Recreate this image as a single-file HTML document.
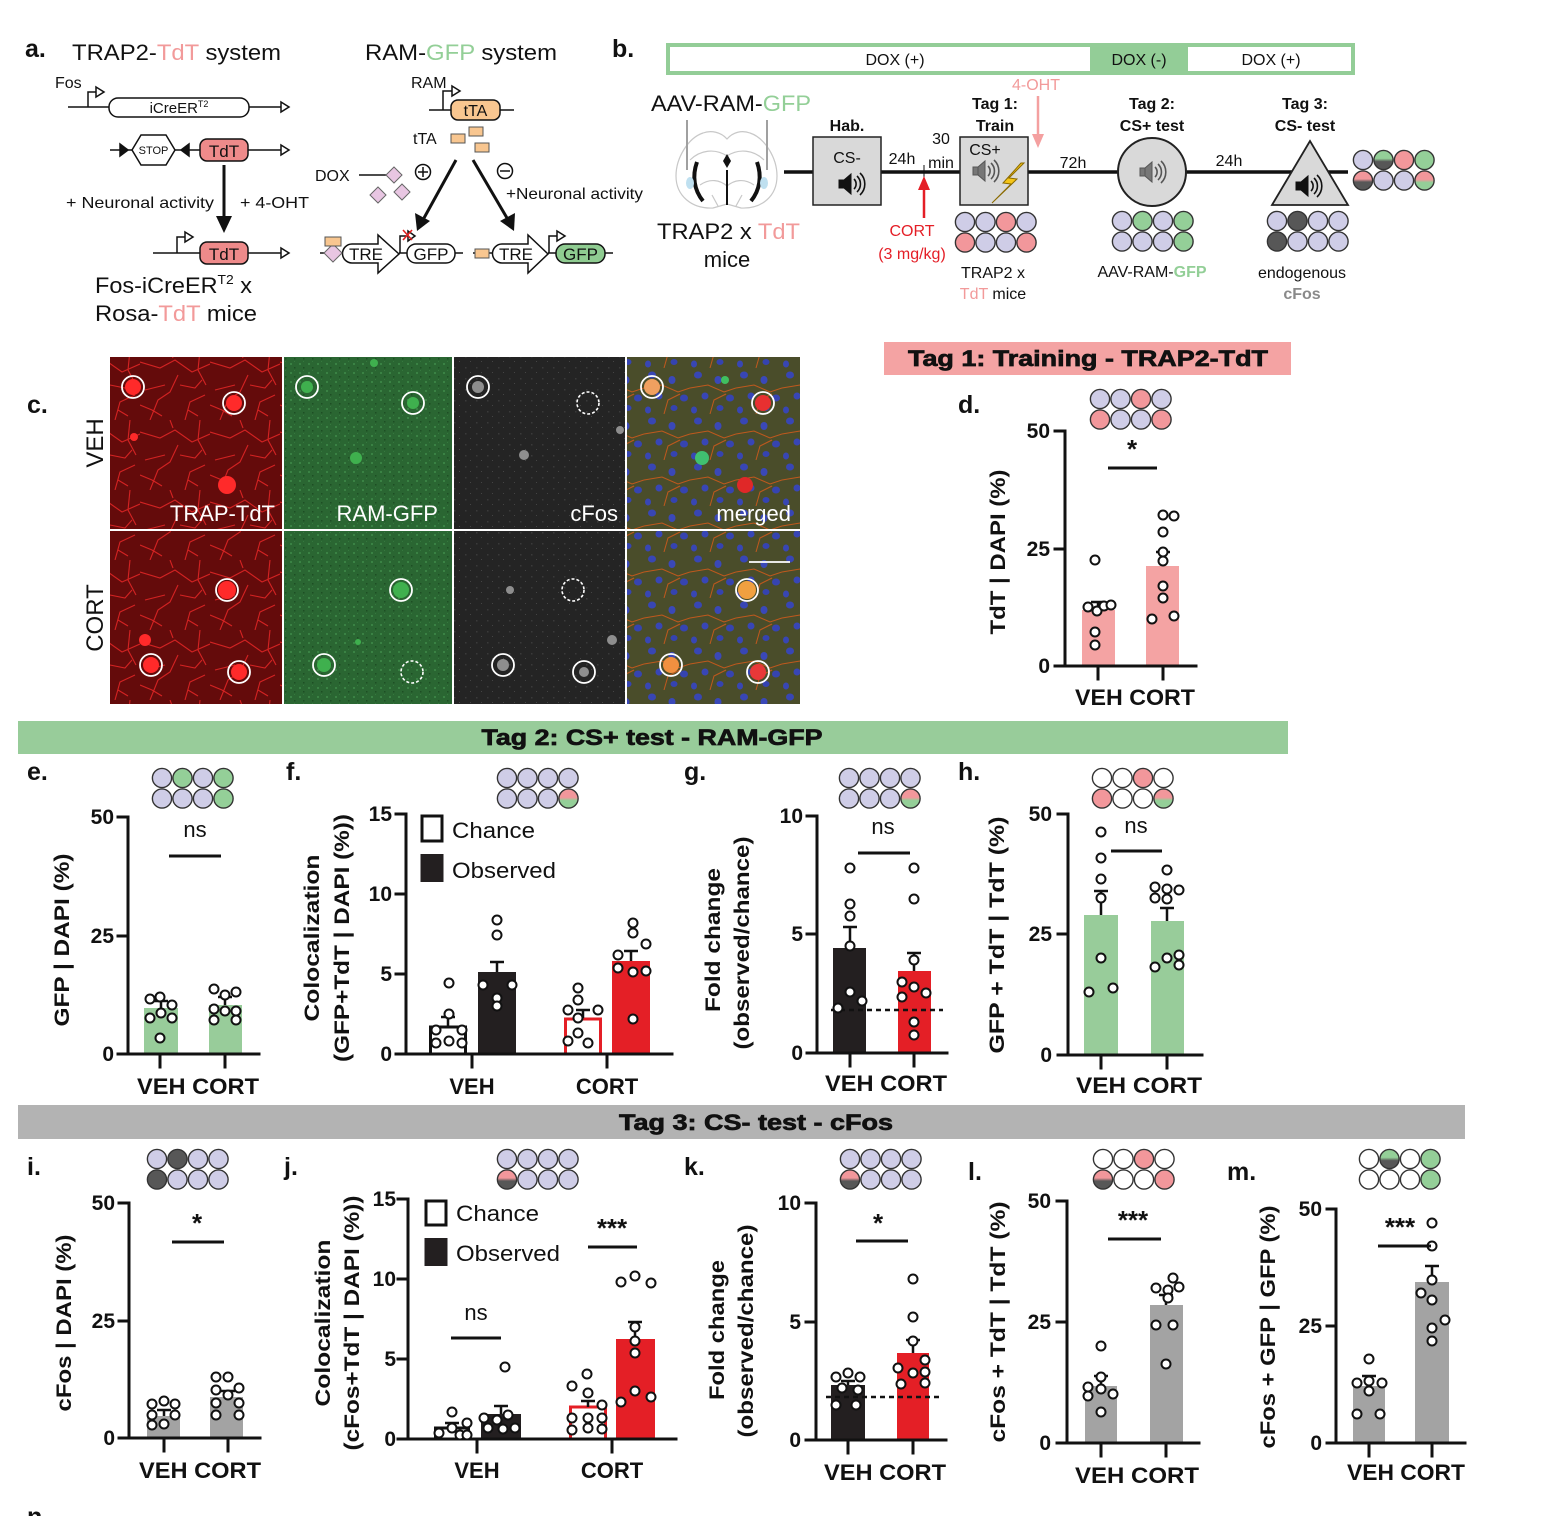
<!DOCTYPE html>
<html><head><meta charset="utf-8">
<style>
html,body{margin:0;padding:0;background:#fff;}
body{width:1554px;height:1516px;overflow:hidden;}
svg{display:block;font-family:"Liberation Sans",Arial,sans-serif;}
.b{font-weight:bold;}
.ax{stroke:#111;stroke-width:3;fill:none;stroke-linecap:square;}
.eb{stroke:#111;stroke-width:2.5;fill:none;}
.p{fill:#fff;stroke:#111;stroke-width:2;}
.gc circle{stroke:#333;stroke-width:1.4;}
.L{fill:#cfcde7;} .P{fill:#f2979b;} .G{fill:#94cf98;} .D{fill:#575757;} .W{fill:#fff;}
.tk{font-size:21px;font-weight:bold;text-anchor:end;fill:#111;}
.yl{font-size:21px;font-weight:bold;text-anchor:middle;fill:#111;}
.xl{font-size:22px;font-weight:bold;fill:#111;}
.lbl{font-size:25px;font-weight:bold;fill:#111;}
.sig{stroke:#111;stroke-width:3;}
.wc{fill:none;stroke:#fff;stroke-width:1.8;}
.wd{fill:none;stroke:#fff;stroke-width:1.6;stroke-dasharray:3 2;}
.ban{font-size:22px;font-weight:bold;text-anchor:middle;fill:#111;stroke:#111;stroke-width:0.7;}
</style></head>
<body>
<svg width="1554" height="1516" viewBox="0 0 1554 1516" xmlns="http://www.w3.org/2000/svg">
<defs>
<linearGradient id="pg" x1="0" y1="0" x2="0" y2="1"><stop offset="0.45" stop-color="#f2979b"/><stop offset="0.6" stop-color="#94cf98"/></linearGradient>
<linearGradient id="pd" x1="0" y1="0" x2="0" y2="1"><stop offset="0.42" stop-color="#f2979b"/><stop offset="0.58" stop-color="#575757"/></linearGradient>
<linearGradient id="gd" x1="0" y1="0" x2="0" y2="1"><stop offset="0.42" stop-color="#94cf98"/><stop offset="0.58" stop-color="#575757"/></linearGradient>
<pattern id="redp" width="70" height="70" patternUnits="userSpaceOnUse">
<rect width="70" height="70" fill="#640b0b"/>
<path d="M0,12 L20,18 L35,10 L52,22 L70,14 M10,70 L18,50 L30,42 L38,25 M45,70 L50,52 L65,45 M25,35 L5,40 M60,0 L58,20 L66,35 M0,55 L12,60 L22,66 M40,35 L55,38 L62,30 M30,0 L33,8 M48,60 L58,66" stroke="#d42222" stroke-width="1.1" fill="none"/>
</pattern>
<pattern id="grnp" width="9" height="9" patternUnits="userSpaceOnUse">
<rect width="9" height="9" fill="#2a6632"/><rect x="2" y="3" width="2" height="2" fill="#3a8244"/><rect x="6" y="7" width="1.5" height="1.5" fill="#1d4e24"/><rect x="6" y="1" width="1" height="1" fill="#35783e"/>
</pattern>
<pattern id="gryp" width="11" height="11" patternUnits="userSpaceOnUse">
<rect width="11" height="11" fill="#242424"/><rect x="3" y="4" width="1.5" height="1.5" fill="#3a3a3a"/><rect x="8" y="9" width="1" height="1" fill="#444"/>
</pattern>
<pattern id="mrgp" width="46" height="46" patternUnits="userSpaceOnUse">
<rect width="46" height="46" fill="#4a4d2a"/>
<ellipse cx="8" cy="7" rx="4" ry="3.5" fill="#3846b4"/><ellipse cx="28" cy="12" rx="3.5" ry="4" fill="#3a48b8"/><ellipse cx="40" cy="30" rx="4" ry="3.5" fill="#3644b0"/><ellipse cx="15" cy="28" rx="3.5" ry="3.5" fill="#3846b6"/><ellipse cx="30" cy="40" rx="3.5" ry="3" fill="#3543b0"/><ellipse cx="4" cy="42" rx="3" ry="3.5" fill="#3846b4"/>
<path d="M0,20 L18,17 L34,24 L46,20 M20,46 L24,32 L36,26" stroke="#c0581c" stroke-width="1" fill="none"/>
</pattern>
<g id="spk"><rect x="-10" y="-4" width="5" height="8"/><polygon points="-5,-4 2,-10 2,10 -5,4"/><path d="M5,-5 A7,7 0 0 1 5,5 M8,-8 A11,11 0 0 1 8,8 M11,-11 A15,15 0 0 1 11,11" fill="none" stroke-width="1.6"/></g>
</defs>

<!-- ================= PANEL A ================= -->
<text x="25" y="57" class="lbl">a.</text>
<text x="72" y="60" font-size="22" textLength="209" lengthAdjust="spacingAndGlyphs" fill="#111">TRAP2-<tspan fill="#f29a9a">TdT</tspan> system</text>
<text x="365" y="60" font-size="22" textLength="192" lengthAdjust="spacingAndGlyphs" fill="#111">RAM-<tspan fill="#93cf97">GFP</tspan> system</text>
<text x="55" y="88" font-size="16" fill="#111">Fos</text>
<g stroke="#111" stroke-width="1.5" fill="none">
<path d="M68,107 H109 M88,107 V92 H96"/>
<polygon points="96,87 104,92 96,97" fill="#fff"/>
<rect x="109" y="98" width="140" height="19" rx="9" fill="#fff"/>
<path d="M249,107 H281"/><polygon points="281,102 289,107 281,112" fill="#fff"/>
<path d="M110,150 H200"/>
<polygon points="120,144 128,150 120,156" fill="#111"/>
<polygon points="132,150 141,135 166,135 175,150 166,165 141,165" fill="#fff"/>
<polygon points="189,144 181,150 189,156" fill="#111"/>
<rect x="200" y="139" width="48" height="22" rx="7" fill="#ee8a8a"/>
<path d="M248,150 H281"/><polygon points="281,145 289,150 281,155" fill="#fff"/>
<path d="M153,253 H200 M177,253 V237 H185"/>
<polygon points="185,232 193,237 185,242" fill="#fff"/>
<rect x="200" y="242" width="48" height="22" rx="7" fill="#ee8a8a"/>
<path d="M248,253 H281"/><polygon points="281,248 289,253 281,258" fill="#fff"/>
</g>
<text x="179" y="113" font-size="15" text-anchor="middle" fill="#111">iCreER<tspan font-size="9" dy="-6">T2</tspan></text>
<text x="153.5" y="154" font-size="11" text-anchor="middle" fill="#111">STOP</text>
<text x="224" y="157" font-size="17" text-anchor="middle" fill="#111">TdT</text>
<text x="224" y="260" font-size="17" text-anchor="middle" fill="#111">TdT</text>
<line x1="224" y1="165" x2="224" y2="218" stroke="#111" stroke-width="3"/>
<polygon points="216,216 232,216 224,233" fill="#111"/>
<text x="66" y="208" font-size="16" textLength="148" lengthAdjust="spacingAndGlyphs" fill="#111">+ Neuronal activity</text>
<text x="240" y="208" font-size="16" textLength="69" lengthAdjust="spacingAndGlyphs" fill="#111">+ 4-OHT</text>
<text x="95" y="293" font-size="22" textLength="157" lengthAdjust="spacingAndGlyphs" fill="#111">Fos-iCreER<tspan font-size="13" dy="-9">T2</tspan><tspan dy="9"> x</tspan></text>
<text x="95" y="321" font-size="22" textLength="162" lengthAdjust="spacingAndGlyphs" fill="#111">Rosa-<tspan fill="#f29a9a">TdT</tspan> mice</text>

<!-- RAM-GFP -->
<text x="411" y="88" font-size="16" fill="#111">RAM</text>
<g stroke="#111" stroke-width="1.5" fill="none">
<path d="M429,110 H451 M443,110 V91 H452"/>
<polygon points="452,86 460,91 452,96" fill="#fff"/>
<rect x="451" y="100" width="49" height="20" rx="7" fill="#f8c690"/>
<path d="M500,110 H514"/>
</g>
<text x="475.5" y="116" font-size="16" text-anchor="middle" fill="#111">tTA</text>
<text x="413" y="144" font-size="16" fill="#111">tTA</text>
<g fill="#f8c690" stroke="#555" stroke-width="1">
<rect x="451" y="134" width="14" height="9"/><rect x="469" y="127" width="14" height="9"/><rect x="475" y="143" width="14" height="9"/>
</g>
<text x="315" y="181" font-size="16" fill="#111">DOX</text>
<line x1="359" y1="175" x2="386" y2="175" stroke="#111" stroke-width="1.5"/>
<g fill="#e8c6e2" stroke="#666" stroke-width="1">
<polygon points="394,167 402,175 394,183 386,175"/><polygon points="378,187 386,195 378,203 370,195"/><polygon points="402,184 410,192 402,200 394,192"/>
</g>
<circle cx="423" cy="172" r="7.5" fill="none" stroke="#111" stroke-width="1.5"/><path d="M418,172 H428 M423,167 V177" stroke="#111" stroke-width="1.5"/>
<circle cx="505" cy="171" r="7.5" fill="none" stroke="#111" stroke-width="1.5"/><path d="M500,171 H510" stroke="#111" stroke-width="1.5"/>
<text x="506" y="199" font-size="16" textLength="137" lengthAdjust="spacingAndGlyphs" fill="#111">+Neuronal activity</text>
<line x1="456" y1="160" x2="424" y2="218" stroke="#111" stroke-width="3"/><polygon points="415,213 430,221 417,231" fill="#111"/>
<line x1="473" y1="160" x2="507" y2="218" stroke="#111" stroke-width="3"/><polygon points="500,221 515,213 514,231" fill="#111"/>
<g stroke="#111" stroke-width="1.5" fill="none">
<path d="M320,253 H343 M399,253 H407 M455,253 H463 M473,253 H493 M548,253 H556 M605,253 H613"/>
<path d="M400,253 V236 H408"/><polygon points="408,231 415,236 408,241" fill="#fff"/>
<path d="M549,253 V236 H557"/><polygon points="557,231 565,236 557,241" fill="#fff"/>
<path d="M352,244 H378 V235 L399,254 L378,273 V263 H352 A9.5,9.5 0 0 1 352,244 Z" fill="#fff"/>
<path d="M502,244 H528 V235 L548,254 L528,273 V263 H502 A9.5,9.5 0 0 1 502,244 Z" fill="#fff"/>
<rect x="407" y="244" width="48" height="19" rx="9" fill="#fff"/>
<rect x="556" y="244" width="49" height="19" rx="9" fill="#8fcc91"/>
</g>
<polygon points="333,244 342,253 333,262 324,253" fill="#e8c6e2" stroke="#666" stroke-width="1"/>
<rect x="325" y="237" width="16" height="9" fill="#f8c690" stroke="#555" stroke-width="1"/>
<rect x="475" y="249" width="14" height="9" fill="#f8c690" stroke="#555" stroke-width="1"/>
<path d="M403,230 L412,240 M412,230 L403,240" stroke="#e02020" stroke-width="1.6"/>
<text x="366" y="260" font-size="17" text-anchor="middle" fill="#111">TRE</text>
<text x="431" y="260" font-size="17" text-anchor="middle" fill="#111">GFP</text>
<text x="516" y="260" font-size="17" text-anchor="middle" fill="#111">TRE</text>
<text x="580.5" y="260" font-size="17" text-anchor="middle" fill="#111">GFP</text>

<!-- ================= PANEL B ================= -->
<text x="612" y="57" class="lbl">b.</text>
<rect x="668" y="45" width="685" height="28" fill="#fff" stroke="#93cd97" stroke-width="4"/>
<rect x="1090" y="45" width="98" height="28" fill="#93cd97"/>
<text x="895" y="65" font-size="16" text-anchor="middle" fill="#111">DOX (+)</text>
<text x="1139" y="65" font-size="16" text-anchor="middle" fill="#111">DOX (-)</text>
<text x="1271" y="65" font-size="16" text-anchor="middle" fill="#111">DOX (+)</text>
<text x="651" y="111" font-size="22" textLength="160" lengthAdjust="spacingAndGlyphs" fill="#111">AAV-RAM-<tspan fill="#93cf97">GFP</tspan></text>
<!-- brain -->
<g fill="none" stroke="#c8c8c8" stroke-width="1.2">
<path d="M703,133 C688,138 676,158 676,176 C676,196 692,209 713,208 L727,204 L741,208 C762,209 777,196 777,176 C777,158 765,138 750,133 C742,130 733,132 727,139 C721,132 711,130 703,133 Z"/>
<path d="M690,160 C700,150 715,148 727,156 C739,148 754,150 764,160"/>
<path d="M700,185 C710,178 720,180 727,186 C734,180 744,178 754,185"/>
<path d="M712,195 L718,206 M742,195 L736,206"/>
</g>
<path d="M687,120 V170 M767,120 V170" stroke="#a0a0a0" stroke-width="2"/>
<path d="M697,162 C692,176 694,190 703,201" stroke="#111" stroke-width="4" fill="none"/>
<path d="M757,162 C762,176 760,190 751,201" stroke="#111" stroke-width="4" fill="none"/>
<path d="M727,170 V205" stroke="#111" stroke-width="2"/>
<polygon points="727,154 731,161 727,168 723,161" fill="#111"/>
<ellipse cx="690" cy="183" rx="4" ry="6" fill="#bfe0f0"/><ellipse cx="764" cy="183" rx="4" ry="6" fill="#bfe0f0"/>
<text x="657" y="239" font-size="22" textLength="143" lengthAdjust="spacingAndGlyphs" fill="#111">TRAP2 x <tspan fill="#f29a9a">TdT</tspan></text>
<text x="727" y="267" font-size="22" text-anchor="middle" fill="#111">mice</text>
<!-- timeline -->
<line x1="784" y1="172" x2="1348" y2="172" stroke="#111" stroke-width="3.5"/>
<line x1="924" y1="165" x2="924" y2="179" stroke="#111" stroke-width="1"/>
<rect x="813" y="137" width="68" height="68" fill="#d9d9d9" stroke="#222" stroke-width="1.5"/>
<text x="847" y="131" font-size="16" class="b" text-anchor="middle" fill="#111">Hab.</text>
<text x="847" y="163" font-size="16" text-anchor="middle" fill="#111">CS-</text>
<use href="#spk" x="849" y="184" fill="#111" stroke="#111"/>
<text x="902" y="164" font-size="16" text-anchor="middle" fill="#111">24h</text>
<text x="941" y="144" font-size="16" text-anchor="middle" fill="#111">30</text>
<text x="941" y="168" font-size="16" text-anchor="middle" fill="#111">min</text>
<line x1="924" y1="218" x2="924" y2="188" stroke="#e41e26" stroke-width="2.5"/>
<polygon points="918,190 930,190 924,176" fill="#e41e26"/>
<text x="912" y="236" font-size="16" text-anchor="middle" fill="#e41e26">CORT</text>
<text x="912" y="259" font-size="16" text-anchor="middle" fill="#e41e26">(3 mg/kg)</text>
<rect x="960" y="137" width="68" height="68" fill="#d9d9d9" stroke="#222" stroke-width="1.5"/>
<text x="995" y="109" font-size="16" class="b" text-anchor="middle" fill="#111">Tag 1:</text>
<text x="995" y="131" font-size="16" class="b" text-anchor="middle" fill="#111">Train</text>
<text x="985" y="155" font-size="16" text-anchor="middle" fill="#111">CS+</text>
<use href="#spk" x="983" y="171" fill="#777" stroke="#555"/>
<polygon points="1021,163 1003,183 1011,184 992,203 1017,179 1009,178 1024,163" fill="#f5c518" stroke="#8a6a00" stroke-width="1"/>
<text x="1036" y="90" font-size="16" text-anchor="middle" fill="#f29a9a">4-OHT</text>
<line x1="1038" y1="96" x2="1038" y2="136" stroke="#f4a0a0" stroke-width="2.5"/>
<polygon points="1032,134 1044,134 1038,148" fill="#f4a0a0"/>
<text x="1073" y="168" font-size="16" text-anchor="middle" fill="#111">72h</text>
<circle cx="1152" cy="172" r="34" fill="#d9d9d9" stroke="#222" stroke-width="2"/>
<text x="1152" y="109" font-size="16" class="b" text-anchor="middle" fill="#111">Tag 2:</text>
<text x="1152" y="131" font-size="16" class="b" text-anchor="middle" fill="#111">CS+ test</text>
<use href="#spk" x="1150" y="172" fill="#777" stroke="#555"/>
<text x="1229" y="166" font-size="16" text-anchor="middle" fill="#111">24h</text>
<polygon points="1310,141 1272,205 1348,205" fill="#d9d9d9" stroke="#222" stroke-width="1.8"/>
<text x="1305" y="109" font-size="16" class="b" text-anchor="middle" fill="#111">Tag 3:</text>
<text x="1305" y="131" font-size="16" class="b" text-anchor="middle" fill="#111">CS- test</text>
<use href="#spk" x="1306" y="186" fill="#111" stroke="#111"/>
<text x="993" y="278" font-size="16" text-anchor="middle" fill="#111">TRAP2 x</text>
<text x="993" y="299" font-size="16" text-anchor="middle" fill="#111"><tspan fill="#f29a9a">TdT</tspan> mice</text>
<text x="1152" y="277" font-size="16" text-anchor="middle" fill="#111">AAV-RAM-<tspan fill="#93cf97" font-weight="bold">GFP</tspan></text>
<text x="1302" y="278" font-size="16" text-anchor="middle" fill="#111">endogenous</text>
<text x="1302" y="299" font-size="16" class="b" text-anchor="middle" fill="#8a8a8a">cFos</text>
<!-- b grids -->
<g class="gc" transform="translate(965,222)"><circle cx="0" cy="0" r="9.6" class="L"/><circle cx="20.5" cy="0" r="9.6" class="L"/><circle cx="41" cy="0" r="9.6" class="P"/><circle cx="61.5" cy="0" r="9.6" class="L"/><circle cx="0" cy="20.5" r="9.6" class="P"/><circle cx="20.5" cy="20.5" r="9.6" class="L"/><circle cx="41" cy="20.5" r="9.6" class="L"/><circle cx="61.5" cy="20.5" r="9.6" class="P"/></g>
<g class="gc" transform="translate(1122,221)"><circle cx="0" cy="0" r="9.6" class="L"/><circle cx="20.5" cy="0" r="9.6" class="G"/><circle cx="41" cy="0" r="9.6" class="L"/><circle cx="61.5" cy="0" r="9.6" class="G"/><circle cx="0" cy="20.5" r="9.6" class="L"/><circle cx="20.5" cy="20.5" r="9.6" class="L"/><circle cx="41" cy="20.5" r="9.6" class="L"/><circle cx="61.5" cy="20.5" r="9.6" class="G"/></g>
<g class="gc" transform="translate(1277,221)"><circle cx="0" cy="0" r="9.6" class="L"/><circle cx="20.5" cy="0" r="9.6" class="D"/><circle cx="41" cy="0" r="9.6" class="L"/><circle cx="61.5" cy="0" r="9.6" class="L"/><circle cx="0" cy="20.5" r="9.6" class="D"/><circle cx="20.5" cy="20.5" r="9.6" class="L"/><circle cx="41" cy="20.5" r="9.6" class="L"/><circle cx="61.5" cy="20.5" r="9.6" class="L"/></g>
<g class="gc" transform="translate(1363,160)"><circle cx="0" cy="0" r="9.6" class="L"/><circle cx="20.5" cy="0" r="9.6" fill="url(#gd)"/><circle cx="41" cy="0" r="9.6" class="P"/><circle cx="61.5" cy="0" r="9.6" class="G"/><circle cx="0" cy="20.5" r="9.6" fill="url(#pd)"/><circle cx="20.5" cy="20.5" r="9.6" class="L"/><circle cx="41" cy="20.5" r="9.6" class="L"/><circle cx="61.5" cy="20.5" r="9.6" fill="url(#pg)"/></g>

<!-- ================= PANEL C ================= -->
<text x="27" y="413" class="lbl">c.</text>
<text transform="translate(103,443) rotate(-90)" font-size="24" text-anchor="middle" fill="#111">VEH</text>
<text transform="translate(103,618) rotate(-90)" font-size="24" text-anchor="middle" fill="#111">CORT</text>
<rect x="110" y="357" width="172" height="172" fill="url(#redp)"/>
<rect x="110" y="531" width="172" height="173" fill="url(#redp)"/>
<rect x="284" y="357" width="168" height="172" fill="url(#grnp)"/>
<rect x="284" y="531" width="168" height="173" fill="url(#grnp)"/>
<rect x="454" y="357" width="171" height="172" fill="url(#gryp)"/>
<rect x="454" y="531" width="171" height="173" fill="url(#gryp)"/>
<rect x="627" y="357" width="173" height="172" fill="url(#mrgp)"/>
<rect x="627" y="531" width="173" height="173" fill="url(#mrgp)"/>
<!-- cells -->
<g fill="#ff2a2a"><circle cx="133" cy="387" r="8"/><circle cx="234" cy="403" r="8"/><circle cx="134" cy="437" r="4"/><circle cx="227" cy="485" r="9"/><circle cx="227" cy="590" r="9"/><circle cx="151" cy="665" r="8"/><circle cx="239" cy="672" r="8"/><circle cx="145" cy="640" r="6"/></g>
<g fill="#3fb04e"><circle cx="307" cy="387" r="6"/><circle cx="413" cy="403" r="6"/><circle cx="356" cy="458" r="6"/><circle cx="374" cy="363" r="4"/><circle cx="401" cy="590" r="8"/><circle cx="324" cy="665" r="7"/><circle cx="358" cy="642" r="3"/></g>
<g fill="#8e8e8e"><circle cx="478" cy="387" r="6"/><circle cx="524" cy="455" r="5"/><circle cx="503" cy="665" r="6"/><circle cx="584" cy="672" r="5"/><circle cx="510" cy="590" r="4"/><circle cx="612" cy="640" r="5"/><circle cx="620" cy="430" r="4"/></g>
<g><circle cx="652" cy="387" r="8" fill="#f0a060"/><circle cx="763" cy="403" r="8" fill="#e83030"/><circle cx="702" cy="458" r="7" fill="#40c070"/><circle cx="745" cy="485" r="8" fill="#e02828"/><circle cx="747" cy="590" r="9" fill="#f0a040"/><circle cx="671" cy="665" r="8" fill="#f09040"/><circle cx="758" cy="672" r="8" fill="#e83838"/><circle cx="725" cy="380" r="4" fill="#40c060"/></g>
<!-- circles -->
<circle cx="133" cy="387" r="11" class="wc"/><circle cx="234" cy="403" r="11" class="wc"/>
<circle cx="227" cy="590" r="11" class="wc"/><circle cx="151" cy="665" r="11" class="wc"/><circle cx="239" cy="672" r="11" class="wc"/>
<circle cx="307" cy="387" r="11" class="wc"/><circle cx="413" cy="403" r="11" class="wc"/>
<circle cx="401" cy="590" r="11" class="wc"/><circle cx="324" cy="665" r="11" class="wc"/><circle cx="412" cy="672" r="11" class="wd"/>
<circle cx="478" cy="387" r="11" class="wc"/><circle cx="588" cy="403" r="11" class="wd"/>
<circle cx="573" cy="590" r="11" class="wd"/><circle cx="503" cy="665" r="11" class="wc"/><circle cx="584" cy="672" r="11" class="wc"/>
<circle cx="652" cy="387" r="11" class="wc"/><circle cx="763" cy="403" r="11" class="wc"/>
<circle cx="747" cy="590" r="11" class="wc"/><circle cx="671" cy="665" r="11" class="wc"/><circle cx="758" cy="672" r="11" class="wc"/>
<line x1="749" y1="562" x2="790" y2="562" stroke="#fff" stroke-width="1.8"/>
<g font-size="22" fill="#fff" text-anchor="end">
<text x="275" y="521">TRAP-TdT</text><text x="438" y="521">RAM-GFP</text><text x="618" y="521">cFos</text><text x="791" y="521">merged</text>
</g>

<!-- ================= TAG 1 / PANEL D ================= -->
<rect x="884" y="342" width="407" height="33" fill="#f4a3a3"/>
<text x="1088" y="366" class="ban" textLength="360" lengthAdjust="spacingAndGlyphs">Tag 1: Training - TRAP2-TdT</text>
<text x="958" y="413" class="lbl">d.</text>
<g class="gc" transform="translate(1100,399)"><circle cx="0" cy="0" r="9.6" class="L"/><circle cx="20.5" cy="0" r="9.6" class="L"/><circle cx="41" cy="0" r="9.6" class="P"/><circle cx="61.5" cy="0" r="9.6" class="L"/><circle cx="0" cy="20.5" r="9.6" class="P"/><circle cx="20.5" cy="20.5" r="9.6" class="L"/><circle cx="41" cy="20.5" r="9.6" class="L"/><circle cx="61.5" cy="20.5" r="9.6" class="P"/></g>
<rect x="1082" y="610" width="33" height="56" fill="#f4a3a3"/>
<rect x="1146" y="566" width="33" height="100" fill="#f4a3a3"/>
<path class="eb" d="M1098,610 V602 M1091,602 H1105 M1163,566 V552 M1156,552 H1170"/>
<path class="ax" d="M1055,431 H1065 M1055,549 H1065 M1055,666 H1065 M1065,431 V666 H1196 M1098,666 V679 M1163,666 V679"/>
<text class="tk" x="1050" y="438">50</text><text class="tk" x="1050" y="556">25</text><text class="tk" x="1050" y="673">0</text>
<g class="p"><circle cx="1095" cy="560" r="4.5"/><circle cx="1088" cy="607" r="4.5"/><circle cx="1097" cy="611" r="4.5"/><circle cx="1104" cy="606" r="4.5"/><circle cx="1111" cy="605" r="4.5"/><circle cx="1095" cy="632" r="4.5"/><circle cx="1095" cy="645" r="4.5"/>
<circle cx="1152" cy="619" r="4.5"/><circle cx="1163" cy="515" r="4.5"/><circle cx="1174" cy="516" r="4.5"/><circle cx="1163" cy="532" r="4.5"/><circle cx="1163" cy="552" r="4.5"/><circle cx="1163" cy="561" r="4.5"/><circle cx="1163" cy="586" r="4.5"/><circle cx="1163" cy="598" r="4.5"/><circle cx="1174" cy="616" r="4.5"/></g>
<line class="sig" x1="1108" y1="468" x2="1157" y2="468"/>
<text x="1132" y="458" font-size="26" class="b" text-anchor="middle" fill="#111">*</text>
<text class="yl" transform="translate(1005,552) rotate(-90)" textLength="165" lengthAdjust="spacingAndGlyphs">TdT | DAPI (%)</text>
<text class="xl" x="1075" y="705" textLength="120" lengthAdjust="spacingAndGlyphs">VEH CORT</text>

<!-- ================= TAG 2 ================= -->
<rect x="18" y="721" width="1270" height="33" fill="#98cc9a"/>
<text x="652" y="745" class="ban" textLength="341" lengthAdjust="spacingAndGlyphs">Tag 2: CS+ test - RAM-GFP</text>

<!-- PANEL E -->
<text x="27" y="780" class="lbl">e.</text>
<g class="gc" transform="translate(162,778)"><circle cx="0" cy="0" r="9.6" class="L"/><circle cx="20.5" cy="0" r="9.6" class="G"/><circle cx="41" cy="0" r="9.6" class="L"/><circle cx="61.5" cy="0" r="9.6" class="G"/><circle cx="0" cy="20.5" r="9.6" class="L"/><circle cx="20.5" cy="20.5" r="9.6" class="L"/><circle cx="41" cy="20.5" r="9.6" class="L"/><circle cx="61.5" cy="20.5" r="9.6" class="G"/></g>
<rect x="144" y="1008" width="34" height="46" fill="#98cc9a"/>
<rect x="209" y="1005" width="33" height="49" fill="#98cc9a"/>
<path class="eb" d="M161,1008 V1001 M154,1001 H168 M225,1005 V997 M218,997 H232"/>
<path class="ax" d="M118,817 H128 M118,936 H128 M118,1054 H128 M128,817 V1054 H259 M160,1054 V1067 M225,1054 V1067"/>
<text class="tk" x="114" y="824">50</text><text class="tk" x="114" y="943">25</text><text class="tk" x="114" y="1061">0</text>
<g class="p"><circle cx="150" cy="999" r="4.5"/><circle cx="160" cy="997" r="4.5"/><circle cx="172" cy="1005" r="4.5"/><circle cx="150" cy="1018" r="4.5"/><circle cx="161" cy="1013" r="4.5"/><circle cx="172" cy="1018" r="4.5"/><circle cx="160" cy="1038" r="4.5"/>
<circle cx="214" cy="989" r="4.5"/><circle cx="225" cy="995" r="4.5"/><circle cx="236" cy="992" r="4.5"/><circle cx="214" cy="1009" r="4.5"/><circle cx="225" cy="1011" r="4.5"/><circle cx="236" cy="1011" r="4.5"/><circle cx="214" cy="1020" r="4.5"/><circle cx="236" cy="1020" r="4.5"/></g>
<line class="sig" x1="169" y1="856" x2="221" y2="856"/>
<text x="195" y="837" font-size="22" text-anchor="middle" fill="#111">ns</text>
<text class="yl" transform="translate(69,940) rotate(-90)" textLength="173" lengthAdjust="spacingAndGlyphs">GFP | DAPI (%)</text>
<text class="xl" x="137" y="1094" textLength="122" lengthAdjust="spacingAndGlyphs">VEH CORT</text>

<!-- PANEL F -->
<text x="286" y="780" class="lbl">f.</text>
<g class="gc" transform="translate(507,778)"><circle cx="0" cy="0" r="9.6" class="L"/><circle cx="20.5" cy="0" r="9.6" class="L"/><circle cx="41" cy="0" r="9.6" class="L"/><circle cx="61.5" cy="0" r="9.6" class="L"/><circle cx="0" cy="20.5" r="9.6" class="L"/><circle cx="20.5" cy="20.5" r="9.6" class="L"/><circle cx="41" cy="20.5" r="9.6" class="L"/><circle cx="61.5" cy="20.5" r="9.6" fill="url(#pg)"/></g>
<rect x="430.5" y="1027" width="35" height="27" fill="#fff" stroke="#111" stroke-width="3"/>
<rect x="478" y="972" width="38" height="82" fill="#231f20"/>
<rect x="565.5" y="1019" width="35" height="35" fill="#fff" stroke="#e41f26" stroke-width="3"/>
<rect x="612" y="961" width="38" height="93" fill="#e41f26"/>
<path class="eb" d="M448,1026 V1017 M441,1017 H455 M497,972 V962 M490,962 H504 M583,1018 V1010 M576,1010 H590 M631,961 V951 M624,951 H638"/>
<path class="ax" d="M396,814 H406 M396,894 H406 M396,974 H406 M396,1054 H406 M406,814 V1054 H672 M472,1054 V1067 M607,1054 V1067"/>
<text class="tk" x="392" y="821">15</text><text class="tk" x="392" y="901">10</text><text class="tk" x="392" y="981">5</text><text class="tk" x="392" y="1061">0</text>
<g class="p"><circle cx="449" cy="983" r="4.5"/><circle cx="449" cy="1014" r="4.5"/><circle cx="436" cy="1030" r="4.5"/><circle cx="462" cy="1030" r="4.5"/><circle cx="436" cy="1043" r="4.5"/><circle cx="449" cy="1041" r="4.5"/><circle cx="462" cy="1043" r="4.5"/>
<circle cx="497" cy="920" r="4.5"/><circle cx="497" cy="935" r="4.5"/><circle cx="483" cy="985" r="4.5"/><circle cx="512" cy="985" r="4.5"/><circle cx="497" cy="998" r="4.5"/><circle cx="497" cy="1006" r="4.5"/>
<circle cx="578" cy="988" r="4.5"/><circle cx="578" cy="1000" r="4.5"/><circle cx="568" cy="1010" r="4.5"/><circle cx="598" cy="1010" r="4.5"/><circle cx="578" cy="1018" r="4.5"/><circle cx="578" cy="1033" r="4.5"/><circle cx="568" cy="1041" r="4.5"/><circle cx="588" cy="1043" r="4.5"/>
<circle cx="633" cy="923" r="4.5"/><circle cx="633" cy="933" r="4.5"/><circle cx="646" cy="944" r="4.5"/><circle cx="618" cy="955" r="4.5"/><circle cx="618" cy="968" r="4.5"/><circle cx="633" cy="972" r="4.5"/><circle cx="646" cy="971" r="4.5"/><circle cx="633" cy="1019" r="4.5"/></g>
<rect x="422" y="816" width="20" height="25" fill="#fff" stroke="#111" stroke-width="3"/>
<rect x="420.5" y="854" width="23" height="28" fill="#231f20"/>
<text x="452" y="838" font-size="22" textLength="83" lengthAdjust="spacingAndGlyphs" fill="#111">Chance</text>
<text x="452" y="878" font-size="22" textLength="104" lengthAdjust="spacingAndGlyphs" fill="#111">Observed</text>
<text class="yl" transform="translate(319,938) rotate(-90)" textLength="167" lengthAdjust="spacingAndGlyphs">Colocalization</text>
<text class="yl" transform="translate(349,938) rotate(-90)" textLength="248" lengthAdjust="spacingAndGlyphs">(GFP+TdT | DAPI (%))</text>
<text class="xl" x="472" y="1094" text-anchor="middle">VEH</text>
<text class="xl" x="607" y="1094" text-anchor="middle">CORT</text>

<!-- PANEL G -->
<text x="684" y="780" class="lbl">g.</text>
<g class="gc" transform="translate(849,778)"><circle cx="0" cy="0" r="9.6" class="L"/><circle cx="20.5" cy="0" r="9.6" class="L"/><circle cx="41" cy="0" r="9.6" class="L"/><circle cx="61.5" cy="0" r="9.6" class="L"/><circle cx="0" cy="20.5" r="9.6" class="L"/><circle cx="20.5" cy="20.5" r="9.6" class="L"/><circle cx="41" cy="20.5" r="9.6" class="L"/><circle cx="61.5" cy="20.5" r="9.6" fill="url(#pg)"/></g>
<rect x="833" y="948" width="33" height="105" fill="#231f20"/>
<rect x="898" y="971" width="33" height="82" fill="#e41f26"/>
<path class="eb" d="M850,948 V927 M843,927 H857 M914,971 V953 M907,953 H921"/>
<path class="ax" d="M807,816 H817 M807,934 H817 M807,1053 H817 M817,816 V1053 H947 M850,1053 V1066 M914,1053 V1066"/>
<text class="tk" x="803" y="823">10</text><text class="tk" x="803" y="941">5</text><text class="tk" x="803" y="1060">0</text>
<line x1="831" y1="1010" x2="943" y2="1010" stroke="#111" stroke-width="2.5" stroke-dasharray="5 4"/>
<g class="p"><circle cx="850" cy="868" r="4.5"/><circle cx="850" cy="904" r="4.5"/><circle cx="850" cy="916" r="4.5"/><circle cx="850" cy="946" r="4.5"/><circle cx="850" cy="992" r="4.5"/><circle cx="862" cy="1001" r="4.5"/><circle cx="838" cy="1008" r="4.5"/>
<circle cx="914" cy="868" r="4.5"/><circle cx="914" cy="899" r="4.5"/><circle cx="914" cy="960" r="4.5"/><circle cx="902" cy="982" r="4.5"/><circle cx="914" cy="987" r="4.5"/><circle cx="926" cy="993" r="4.5"/><circle cx="902" cy="997" r="4.5"/><circle cx="914" cy="1022" r="4.5"/><circle cx="914" cy="1035" r="4.5"/></g>
<line class="sig" x1="858" y1="853" x2="910" y2="853"/>
<text x="883" y="834" font-size="22" text-anchor="middle" fill="#111">ns</text>
<text class="yl" transform="translate(720,940) rotate(-90)" textLength="144" lengthAdjust="spacingAndGlyphs">Fold change</text>
<text class="yl" transform="translate(749,943) rotate(-90)" textLength="213" lengthAdjust="spacingAndGlyphs">(observed/chance)</text>
<text class="xl" x="825" y="1091" textLength="122" lengthAdjust="spacingAndGlyphs">VEH CORT</text>

<!-- PANEL H -->
<text x="958" y="780" class="lbl">h.</text>
<g class="gc" transform="translate(1102,778)"><circle cx="0" cy="0" r="9.6" class="W"/><circle cx="20.5" cy="0" r="9.6" class="W"/><circle cx="41" cy="0" r="9.6" class="P"/><circle cx="61.5" cy="0" r="9.6" class="W"/><circle cx="0" cy="20.5" r="9.6" class="P"/><circle cx="20.5" cy="20.5" r="9.6" class="W"/><circle cx="41" cy="20.5" r="9.6" class="W"/><circle cx="61.5" cy="20.5" r="9.6" fill="url(#pg)"/></g>
<rect x="1084" y="915" width="34" height="140" fill="#98cc9a"/>
<rect x="1151" y="921" width="33" height="134" fill="#98cc9a"/>
<path class="eb" d="M1101,915 V891 M1094,891 H1108 M1167,921 V908 M1160,908 H1174"/>
<path class="ax" d="M1058,814 H1068 M1058,934 H1068 M1058,1055 H1068 M1068,814 V1055 H1202 M1101,1055 V1068 M1167,1055 V1068"/>
<text class="tk" x="1052" y="821">50</text><text class="tk" x="1052" y="941">25</text><text class="tk" x="1052" y="1062">0</text>
<g class="p"><circle cx="1101" cy="832" r="4.5"/><circle cx="1101" cy="858" r="4.5"/><circle cx="1101" cy="879" r="4.5"/><circle cx="1101" cy="898" r="4.5"/><circle cx="1101" cy="958" r="4.5"/><circle cx="1089" cy="992" r="4.5"/><circle cx="1113" cy="988" r="4.5"/>
<circle cx="1167" cy="870" r="4.5"/><circle cx="1155" cy="887" r="4.5"/><circle cx="1167" cy="889" r="4.5"/><circle cx="1179" cy="890" r="4.5"/><circle cx="1155" cy="898" r="4.5"/><circle cx="1167" cy="899" r="4.5"/><circle cx="1167" cy="958" r="4.5"/><circle cx="1155" cy="967" r="4.5"/><circle cx="1179" cy="955" r="4.5"/><circle cx="1179" cy="965" r="4.5"/></g>
<line class="sig" x1="1111" y1="851" x2="1162" y2="851"/>
<text x="1136" y="833" font-size="22" text-anchor="middle" fill="#111">ns</text>
<text class="yl" transform="translate(1004,935) rotate(-90)" textLength="237" lengthAdjust="spacingAndGlyphs">GFP + TdT | TdT (%)</text>
<text class="xl" x="1076" y="1093" textLength="126" lengthAdjust="spacingAndGlyphs">VEH CORT</text>

<!-- ================= TAG 3 ================= -->
<rect x="18" y="1105" width="1447" height="34" fill="#b3b3b3"/>
<text x="756" y="1130" class="ban" textLength="274" lengthAdjust="spacingAndGlyphs">Tag 3: CS- test - cFos</text>

<!-- PANEL I -->
<text x="27" y="1175" class="lbl">i.</text>
<g class="gc" transform="translate(157,1159)"><circle cx="0" cy="0" r="9.6" class="L"/><circle cx="20.5" cy="0" r="9.6" class="D"/><circle cx="41" cy="0" r="9.6" class="L"/><circle cx="61.5" cy="0" r="9.6" class="L"/><circle cx="0" cy="20.5" r="9.6" class="D"/><circle cx="20.5" cy="20.5" r="9.6" class="L"/><circle cx="41" cy="20.5" r="9.6" class="L"/><circle cx="61.5" cy="20.5" r="9.6" class="L"/></g>
<rect x="147" y="1416" width="33" height="22" fill="#a3a3a3"/>
<rect x="210" y="1397" width="33" height="41" fill="#a3a3a3"/>
<path class="eb" d="M164,1416 V1410 M157,1410 H171 M228,1397 V1391 M221,1391 H235"/>
<path class="ax" d="M119,1203 H129 M119,1321 H129 M119,1438 H129 M129,1203 V1438 H260 M164,1438 V1451 M228,1438 V1451"/>
<text class="tk" x="115" y="1210">50</text><text class="tk" x="115" y="1328">25</text><text class="tk" x="115" y="1445">0</text>
<g class="p"><circle cx="152" cy="1404" r="4.5"/><circle cx="164" cy="1401" r="4.5"/><circle cx="175" cy="1404" r="4.5"/><circle cx="152" cy="1415" r="4.5"/><circle cx="175" cy="1415" r="4.5"/><circle cx="152" cy="1425" r="4.5"/><circle cx="164" cy="1424" r="4.5"/>
<circle cx="216" cy="1377" r="4.5"/><circle cx="228" cy="1377" r="4.5"/><circle cx="239" cy="1388" r="4.5"/><circle cx="216" cy="1390" r="4.5"/><circle cx="228" cy="1395" r="4.5"/><circle cx="216" cy="1403" r="4.5"/><circle cx="239" cy="1403" r="4.5"/><circle cx="216" cy="1415" r="4.5"/><circle cx="239" cy="1415" r="4.5"/></g>
<line class="sig" x1="172" y1="1242" x2="224" y2="1242"/>
<text x="197" y="1232" font-size="26" class="b" text-anchor="middle" fill="#111">*</text>
<text class="yl" transform="translate(71,1323) rotate(-90)" textLength="177" lengthAdjust="spacingAndGlyphs">cFos | DAPI (%)</text>
<text class="xl" x="139" y="1478" textLength="122" lengthAdjust="spacingAndGlyphs">VEH CORT</text>

<!-- PANEL J -->
<text x="284" y="1175" class="lbl">j.</text>
<g class="gc" transform="translate(507,1159)"><circle cx="0" cy="0" r="9.6" class="L"/><circle cx="20.5" cy="0" r="9.6" class="L"/><circle cx="41" cy="0" r="9.6" class="L"/><circle cx="61.5" cy="0" r="9.6" class="L"/><circle cx="0" cy="20.5" r="9.6" fill="url(#pd)"/><circle cx="20.5" cy="20.5" r="9.6" class="L"/><circle cx="41" cy="20.5" r="9.6" class="L"/><circle cx="61.5" cy="20.5" r="9.6" class="L"/></g>
<rect x="435.5" y="1428" width="33" height="11" fill="#fff" stroke="#111" stroke-width="3"/>
<rect x="481" y="1414" width="40" height="25" fill="#231f20"/>
<rect x="570.5" y="1407" width="35" height="32" fill="#fff" stroke="#e41f26" stroke-width="3"/>
<rect x="616" y="1339" width="39" height="100" fill="#e41f26"/>
<path class="eb" d="M452,1428 V1423 M445,1423 H459 M501,1414 V1406 M494,1406 H508 M588,1407 V1401 M581,1401 H595 M635,1339 V1322 M628,1322 H642"/>
<path class="ax" d="M398,1199 H408 M398,1279 H408 M398,1359 H408 M398,1439 H408 M408,1199 V1439 H676 M477,1439 V1452 M612,1439 V1452"/>
<text class="tk" x="396" y="1206">15</text><text class="tk" x="396" y="1286">10</text><text class="tk" x="396" y="1366">5</text><text class="tk" x="396" y="1446">0</text>
<g class="p"><circle cx="452" cy="1412" r="4.5"/><circle cx="439" cy="1433" r="4.5"/><circle cx="452" cy="1428" r="4.5"/><circle cx="467" cy="1423" r="4.5"/><circle cx="460" cy="1435" r="4.5"/><circle cx="467" cy="1435" r="4.5"/>
<circle cx="505" cy="1367" r="4.5"/><circle cx="484" cy="1418" r="4.5"/><circle cx="497" cy="1420" r="4.5"/><circle cx="508" cy="1415" r="4.5"/><circle cx="515" cy="1428" r="4.5"/><circle cx="488" cy="1428" r="4.5"/><circle cx="503" cy="1429" r="4.5"/>
<circle cx="587" cy="1374" r="4.5"/><circle cx="572" cy="1386" r="4.5"/><circle cx="588" cy="1393" r="4.5"/><circle cx="602" cy="1405" r="4.5"/><circle cx="572" cy="1418" r="4.5"/><circle cx="588" cy="1418" r="4.5"/><circle cx="602" cy="1418" r="4.5"/><circle cx="572" cy="1430" r="4.5"/><circle cx="588" cy="1428" r="4.5"/><circle cx="602" cy="1429" r="4.5"/>
<circle cx="621" cy="1282" r="4.5"/><circle cx="635" cy="1276" r="4.5"/><circle cx="651" cy="1283" r="4.5"/><circle cx="635" cy="1327" r="4.5"/><circle cx="635" cy="1341" r="4.5"/><circle cx="635" cy="1353" r="4.5"/><circle cx="621" cy="1402" r="4.5"/><circle cx="635" cy="1391" r="4.5"/><circle cx="651" cy="1397" r="4.5"/></g>
<rect x="426" y="1201" width="20" height="24" fill="#fff" stroke="#111" stroke-width="3"/>
<rect x="424.5" y="1238" width="23" height="28" fill="#231f20"/>
<text x="456" y="1221" font-size="22" textLength="83" lengthAdjust="spacingAndGlyphs" fill="#111">Chance</text>
<text x="456" y="1261" font-size="22" textLength="104" lengthAdjust="spacingAndGlyphs" fill="#111">Observed</text>
<line class="sig" x1="451" y1="1338" x2="501" y2="1338"/>
<text x="476" y="1320" font-size="22" text-anchor="middle" fill="#111">ns</text>
<line class="sig" x1="588" y1="1247" x2="637" y2="1247"/>
<text x="612" y="1237" font-size="26" class="b" text-anchor="middle" fill="#111">***</text>
<text class="yl" transform="translate(330,1323) rotate(-90)" textLength="167" lengthAdjust="spacingAndGlyphs">Colocalization</text>
<text class="yl" transform="translate(359,1323) rotate(-90)" textLength="255" lengthAdjust="spacingAndGlyphs">(cFos+TdT | DAPI (%))</text>
<text class="xl" x="477" y="1478" text-anchor="middle">VEH</text>
<text class="xl" x="612" y="1478" text-anchor="middle">CORT</text>

<!-- PANEL K -->
<text x="684" y="1175" class="lbl">k.</text>
<g class="gc" transform="translate(850,1159)"><circle cx="0" cy="0" r="9.6" class="L"/><circle cx="20.5" cy="0" r="9.6" class="L"/><circle cx="41" cy="0" r="9.6" class="L"/><circle cx="61.5" cy="0" r="9.6" class="L"/><circle cx="0" cy="20.5" r="9.6" fill="url(#pd)"/><circle cx="20.5" cy="20.5" r="9.6" class="L"/><circle cx="41" cy="20.5" r="9.6" class="L"/><circle cx="61.5" cy="20.5" r="9.6" class="L"/></g>
<rect x="831" y="1385" width="34" height="55" fill="#231f20"/>
<rect x="897" y="1353" width="32" height="87" fill="#e41f26"/>
<path class="eb" d="M848,1385 V1381 M841,1381 H855 M913,1353 V1340 M906,1340 H920"/>
<path class="ax" d="M806,1203 H816 M806,1322 H816 M806,1440 H816 M816,1203 V1440 H946 M848,1440 V1453 M913,1440 V1453"/>
<text class="tk" x="801" y="1210">10</text><text class="tk" x="801" y="1329">5</text><text class="tk" x="801" y="1447">0</text>
<line x1="826" y1="1397" x2="942" y2="1397" stroke="#111" stroke-width="2.5" stroke-dasharray="5 4"/>
<g class="p"><circle cx="836" cy="1377" r="4.5"/><circle cx="848" cy="1373" r="4.5"/><circle cx="860" cy="1377" r="4.5"/><circle cx="842" cy="1388" r="4.5"/><circle cx="858" cy="1390" r="4.5"/><circle cx="836" cy="1405" r="4.5"/><circle cx="856" cy="1405" r="4.5"/>
<circle cx="913" cy="1279" r="4.5"/><circle cx="913" cy="1317" r="4.5"/><circle cx="913" cy="1341" r="4.5"/><circle cx="898" cy="1368" r="4.5"/><circle cx="925" cy="1360" r="4.5"/><circle cx="913" cy="1373" r="4.5"/><circle cx="925" cy="1372" r="4.5"/><circle cx="901" cy="1384" r="4.5"/><circle cx="925" cy="1383" r="4.5"/></g>
<line class="sig" x1="856" y1="1241" x2="908" y2="1241"/>
<text x="878" y="1232" font-size="26" class="b" text-anchor="middle" fill="#111">*</text>
<text class="yl" transform="translate(724,1330) rotate(-90)" textLength="140" lengthAdjust="spacingAndGlyphs">Fold change</text>
<text class="yl" transform="translate(753,1331) rotate(-90)" textLength="213" lengthAdjust="spacingAndGlyphs">(observed/chance)</text>
<text class="xl" x="824" y="1480" textLength="122" lengthAdjust="spacingAndGlyphs">VEH CORT</text>

<!-- PANEL L -->
<text x="968" y="1180" class="lbl">l.</text>
<g class="gc" transform="translate(1103,1159)"><circle cx="0" cy="0" r="9.6" class="W"/><circle cx="20.5" cy="0" r="9.6" class="W"/><circle cx="41" cy="0" r="9.6" class="P"/><circle cx="61.5" cy="0" r="9.6" class="W"/><circle cx="0" cy="20.5" r="9.6" fill="url(#pd)"/><circle cx="20.5" cy="20.5" r="9.6" class="W"/><circle cx="41" cy="20.5" r="9.6" class="W"/><circle cx="61.5" cy="20.5" r="9.6" class="P"/></g>
<rect x="1085" y="1386" width="32" height="57" fill="#a3a3a3"/>
<rect x="1150" y="1305" width="33" height="138" fill="#a3a3a3"/>
<path class="eb" d="M1101,1386 V1376 M1094,1376 H1108 M1166,1305 V1295 M1159,1295 H1173"/>
<path class="ax" d="M1057,1201 H1067 M1057,1322 H1067 M1057,1443 H1067 M1067,1201 V1443 H1199 M1101,1443 V1456 M1166,1443 V1456"/>
<text class="tk" x="1051" y="1208">50</text><text class="tk" x="1051" y="1329">25</text><text class="tk" x="1051" y="1450">0</text>
<g class="p"><circle cx="1101" cy="1346" r="4.5"/><circle cx="1101" cy="1377" r="4.5"/><circle cx="1088" cy="1387" r="4.5"/><circle cx="1101" cy="1389" r="4.5"/><circle cx="1113" cy="1394" r="4.5"/><circle cx="1088" cy="1396" r="4.5"/><circle cx="1101" cy="1412" r="4.5"/>
<circle cx="1173" cy="1278" r="4.5"/><circle cx="1156" cy="1288" r="4.5"/><circle cx="1168" cy="1290" r="4.5"/><circle cx="1179" cy="1287" r="4.5"/><circle cx="1168" cy="1298" r="4.5"/><circle cx="1156" cy="1325" r="4.5"/><circle cx="1173" cy="1325" r="4.5"/><circle cx="1166" cy="1364" r="4.5"/></g>
<line class="sig" x1="1108" y1="1239" x2="1161" y2="1239"/>
<text x="1133" y="1229" font-size="26" class="b" text-anchor="middle" fill="#111">***</text>
<text class="yl" transform="translate(1005,1322) rotate(-90)" textLength="241" lengthAdjust="spacingAndGlyphs">cFos + TdT | TdT (%)</text>
<text class="xl" x="1075" y="1483" textLength="124" lengthAdjust="spacingAndGlyphs">VEH CORT</text>

<!-- PANEL M -->
<text x="1227" y="1180" class="lbl">m.</text>
<g class="gc" transform="translate(1369,1159)"><circle cx="0" cy="0" r="9.6" class="W"/><circle cx="20.5" cy="0" r="9.6" fill="url(#gd)"/><circle cx="41" cy="0" r="9.6" class="W"/><circle cx="61.5" cy="0" r="9.6" class="G"/><circle cx="0" cy="20.5" r="9.6" class="W"/><circle cx="20.5" cy="20.5" r="9.6" class="W"/><circle cx="41" cy="20.5" r="9.6" class="W"/><circle cx="61.5" cy="20.5" r="9.6" class="G"/></g>
<rect x="1353" y="1386" width="32" height="57" fill="#a3a3a3"/>
<rect x="1415" y="1282" width="34" height="161" fill="#a3a3a3"/>
<path class="eb" d="M1369,1386 V1376 M1362,1376 H1376 M1432,1282 V1266 M1425,1266 H1439"/>
<path class="ax" d="M1327,1209 H1336 M1327,1326 H1336 M1327,1443 H1336 M1336,1209 V1443 H1465 M1369,1443 V1456 M1432,1443 V1456"/>
<text class="tk" x="1322" y="1216">50</text><text class="tk" x="1322" y="1333">25</text><text class="tk" x="1322" y="1450">0</text>
<g class="p"><circle cx="1369" cy="1359" r="4.5"/><circle cx="1357" cy="1383" r="4.5"/><circle cx="1369" cy="1381" r="4.5"/><circle cx="1382" cy="1383" r="4.5"/><circle cx="1369" cy="1391" r="4.5"/><circle cx="1357" cy="1414" r="4.5"/><circle cx="1380" cy="1414" r="4.5"/>
<circle cx="1432" cy="1223" r="4.5"/><circle cx="1432" cy="1246" r="4.5"/><circle cx="1432" cy="1280" r="4.5"/><circle cx="1421" cy="1293" r="4.5"/><circle cx="1432" cy="1300" r="4.5"/><circle cx="1445" cy="1320" r="4.5"/><circle cx="1432" cy="1328" r="4.5"/><circle cx="1432" cy="1341" r="4.5"/></g>
<line class="sig" x1="1378" y1="1246" x2="1431" y2="1246"/>
<text x="1400" y="1236" font-size="26" class="b" text-anchor="middle" fill="#111">***</text>
<text class="yl" transform="translate(1275,1327) rotate(-90)" textLength="243" lengthAdjust="spacingAndGlyphs">cFos + GFP | GFP (%)</text>
<text class="xl" x="1347" y="1480" textLength="118" lengthAdjust="spacingAndGlyphs">VEH CORT</text>

<text x="27" y="1525" class="lbl">n.</text>
</svg>
</body></html>
